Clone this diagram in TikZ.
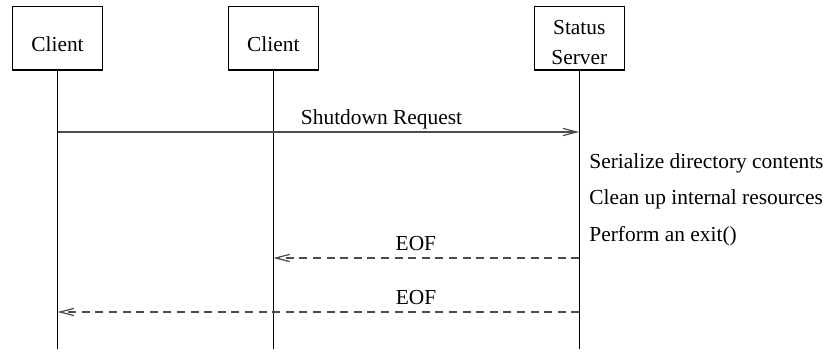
\documentclass[tikz,border=0pt]{standalone}
\usepackage{fontspec}
\setmainfont{Liberation Serif}
\usetikzlibrary{arrows.meta}
\begin{document}
\begin{tikzpicture}[x=0.5pt,y=-0.5pt,
  every node/.style={font=\fontsize{10.7}{15}\selectfont, inner sep=0pt},
  actor/.style={draw=black, line width=0.6pt, minimum width=45pt, minimum height=31.7pt},
  lifeline/.style={draw=black, line width=0.6pt},
  msg/.style={draw=black!70, line width=0.6pt, -{Straight Barb[length=7pt,width=3.6pt]}},
  reply/.style={msg, dash pattern=on 4pt off 2.8pt},
  lbl/.style={anchor=base, yshift=3.5pt},
  note/.style={anchor=base west}]
  \useasboundingbox (0,0) rectangle (826,352);

  % participants
  \node[actor] (c1) at (57.5,38.3) {};
  \node[actor] (c2) at (273.3,38.3) {};
  \node[actor] (srv) at (579.3,38.3) {};
  \node[anchor=base] (c1t) at (57.5,51.7) {Client};
  \node[anchor=base] (c2t) at (273.3,51.7) {Client};
  \node[anchor=base] (srvt1) at (579.3,34.3) {Status};
  \node[anchor=base] (srvt2) at (579.3,64.3) {Server};

  % lifelines
  \coordinate (bottom) at (0,349);
  \draw[lifeline] (c1.south) -- (c1 |- bottom);
  \draw[lifeline] (c2.south) -- (c2 |- bottom);
  \draw[lifeline] (srv.south) -- (srv |- bottom);

  % message rows
  \coordinate (m1) at (0,132);
  \coordinate (m2) at (0,258);
  \coordinate (m3) at (0,312);

  \draw[msg] (c1 |- m1) -- (srv |- m1)
    node[lbl, pos=0.621] (l1) {Shutdown Request};
  \draw[reply] (srv |- m2) -- (c2 |- m2)
    node[lbl, pos=0.534] (l2) {EOF};
  \draw[reply] (srv |- m3) -- (c1 |- m3)
    node[lbl, pos=0.313] (l3) {EOF};

  % server actions
  \node[note] (a1) at (589,169) {Serialize directory contents};
  \node[note] (a2) at (589,205) {Clean up internal resources};
  \node[note] (a3) at (589,242) {Perform an exit()};
\end{tikzpicture}
\end{document}
